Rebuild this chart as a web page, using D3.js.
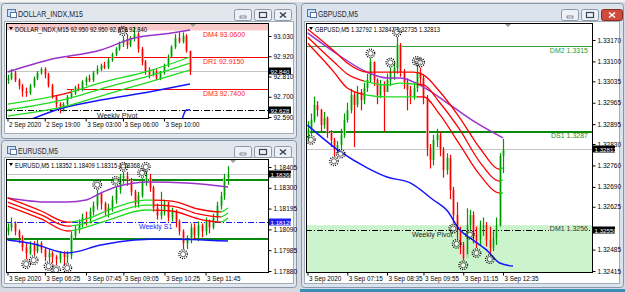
<!DOCTYPE html>
<html>
<head>
<meta charset="utf-8">
<script src="https://d3js.org/d3.v7.min.js"></script>
<style>
  body { margin: 0; background: #d9dde2; }
  svg { display: block; font-family: "Liberation Sans", Arial, sans-serif; }
</style>
</head>
<body>
<div id="chart"></div>
<script>
// 1. DATA ----------------------------------------------------------

// DOLLAR_INDX, M15
const dxDates = ["2 Sep 2020", "2 Sep 19:00", "3 Sep 03:00", "3 Sep 06:00", "3 Sep 10:00"];
const dxDateIdx = [0, 10, 21, 31, 42];
const dxTicks = [93.030, 92.920, 92.810, 92.700, 92.590];
const dxOpen0 = 92.79;
const dxClose = [92.80, 92.83, 92.79, 92.76, 92.73, 92.72, 92.76, 92.80, 92.83, 92.85,
                 92.82, 92.76, 92.70, 92.66, 92.63, 92.66, 92.70, 92.72, 92.75, 92.74,
                 92.78, 92.80, 92.79, 92.83, 92.85, 92.87, 92.86, 92.90, 92.93, 92.96,
                 92.99, 93.01, 92.98, 93.02, 93.04, 92.96, 92.89, 92.84, 92.82, 92.84,
                 92.80, 92.83, 92.87, 92.92, 92.97, 93.02, 93.00, 93.03, 92.95, 92.84];
const dxHigh  = [92.82, 92.85, 92.84, 92.80, 92.77, 92.75, 92.77, 92.81, 92.84, 92.86,
                 92.86, 92.83, 92.77, 92.71, 92.67, 92.67, 92.71, 92.74, 92.76, 92.77,
                 92.79, 92.81, 92.82, 92.84, 92.87, 92.88, 92.89, 92.91, 92.94, 92.97,
                 93.00, 93.03, 93.04, 93.03, 93.08, 93.05, 92.97, 92.90, 92.86, 92.85,
                 92.85, 92.84, 92.88, 92.93, 92.98, 93.04, 93.05, 93.05, 93.04, 92.95];
const dxLow   = [92.77, 92.79, 92.78, 92.74, 92.70, 92.70, 92.71, 92.75, 92.79, 92.82,
                 92.80, 92.75, 92.69, 92.64, 92.61, 92.62, 92.65, 92.69, 92.71, 92.73,
                 92.73, 92.76, 92.78, 92.78, 92.82, 92.84, 92.85, 92.85, 92.89, 92.92,
                 92.95, 92.97, 92.96, 92.97, 93.00, 92.94, 92.87, 92.82, 92.80, 92.81,
                 92.79, 92.79, 92.82, 92.86, 92.91, 92.96, 92.99, 92.99, 92.94, 92.818];
const dxPurpleIdx = [0, 11, 25, 34, 44, 49];
const dxPurple = [92.834, 92.900, 92.954, 93.019, 93.046, 93.063];
const dxBlueIdx = [6, 15, 25, 38, 49];
const dxBlue = [92.575, 92.640, 92.682, 92.726, 92.769];
const dxWeeklyIdx = [47, 48, 49];
const dxWeekly = [92.585, 92.628, 92.630];
const dxRibIdx = [0, 16, 25, 38, 49];
const dxRib1 = [92.660, 92.720, 92.775, 92.840, 92.916];
const dxRib2 = [92.628, 92.688, 92.742, 92.813, 92.883];
const dxRib3 = [92.595, 92.650, 92.704, 92.780, 92.845];
const dxLevelNames = ["DM4 93.0600", "DR1 92.9150", "DM3 92.7400"];
const dxLevelVals = [93.06, 92.915, 92.74];
const dxPivot = 92.628, dxLast = 92.840;
const dxSunHi = [31], dxSunLo = [];

// EURUSD, M5
const euDates = ["3 Sep 2020", "3 Sep 06:25", "3 Sep 07:45", "3 Sep 09:05", "3 Sep 10:25", "3 Sep 11:45"];
const euDateIdx = [0, 10, 21, 31, 42, 53];
const euTicks = [1.18405, 1.18300, 1.18195, 1.18090, 1.17985, 1.17880];
const euOpen0 = 1.1808;
const euClose = [1.1810, 1.1812, 1.1808, 1.1805, 1.1800, 1.1797, 1.1801, 1.1798, 1.1802, 1.1799,
                 1.1795, 1.1797, 1.1795, 1.1794, 1.1797, 1.1795, 1.1796, 1.1806, 1.1809, 1.1812,
                 1.1815, 1.1814, 1.1818, 1.1821, 1.1827, 1.1822, 1.1818, 1.1820, 1.1824, 1.1829,
                 1.1835, 1.1836, 1.1834, 1.1828, 1.1822, 1.1826, 1.1833, 1.1835, 1.1830, 1.1820,
                 1.1816, 1.1818, 1.1822, 1.1815, 1.1818, 1.1813, 1.1808, 1.1802, 1.1804, 1.1810,
                 1.1806, 1.1811, 1.1808, 1.1813, 1.1810, 1.1815, 1.1821, 1.1826, 1.18352, 1.18368];
const euHigh  = [1.1812, 1.1815, 1.1813, 1.1809, 1.1806, 1.1802, 1.1803, 1.1803, 1.1804, 1.1803,
                 1.1800, 1.1799, 1.1798, 1.1796, 1.1798, 1.1798, 1.1798, 1.1808, 1.1811, 1.1814,
                 1.1817, 1.1818, 1.1820, 1.1823, 1.1829, 1.1828, 1.1823, 1.1822, 1.1826, 1.1831,
                 1.1837, 1.1838, 1.1838, 1.1835, 1.1829, 1.1828, 1.1835, 1.1838, 1.1837, 1.1831,
                 1.1822, 1.1828, 1.1824, 1.1823, 1.1820, 1.1819, 1.1814, 1.1809, 1.1806, 1.1812,
                 1.1812, 1.1813, 1.1812, 1.1815, 1.1814, 1.1817, 1.1823, 1.1828, 1.1837, 1.18409];
const euLow   = [1.1806, 1.1808, 1.1806, 1.1802, 1.1798, 1.1794, 1.1796, 1.1796, 1.1797, 1.1797,
                 1.1793, 1.1793, 1.1792, 1.1791, 1.1792, 1.1791, 1.1792, 1.1794, 1.1804, 1.1807,
                 1.1810, 1.1811, 1.1812, 1.1816, 1.1819, 1.1819, 1.1816, 1.1815, 1.1818, 1.1822,
                 1.1827, 1.1832, 1.1831, 1.1826, 1.1820, 1.1820, 1.1825, 1.1831, 1.1828, 1.1818,
                 1.1814, 1.1814, 1.1816, 1.1813, 1.1813, 1.1810, 1.1806, 1.1799, 1.1799, 1.1802,
                 1.1804, 1.1803, 1.1805, 1.1806, 1.1807, 1.1809, 1.1813, 1.1819, 1.1824, 1.18315];
const euPurpleIdx = [0, 11, 16, 21, 25, 29, 38, 48, 59];
const euPurple = [1.18249, 1.18228, 1.18228, 1.18238, 1.18274, 1.18304, 1.18329, 1.18324, 1.18304];
const euBlueIdx = [0, 7, 16, 25, 34, 42, 59];
const euBlue = [1.18036, 1.18016, 1.17971, 1.18011, 1.18036, 1.18042, 1.18031];
const euRibIdx = [0, 9, 16, 22, 27, 37, 44, 51, 57, 59];
const euRib1 = [1.18249, 1.18183, 1.18127, 1.18148, 1.18188, 1.18238, 1.18233, 1.18193, 1.18178, 1.18198];
const euRib2 = [1.18228, 1.18163, 1.18107, 1.18127, 1.18163, 1.18213, 1.18208, 1.18168, 1.18153, 1.18173];
const euRib3 = [1.18208, 1.18143, 1.18082, 1.18107, 1.18137, 1.18188, 1.18183, 1.18143, 1.18127, 1.18148];
const euRibTrend = [[0, 17, "R"], [17, 39, "G"], [39, 57, "R"], [57, 59, "G"]];
const euGreenLevels = [1.18339, 1.18042];
const euS1 = 1.18128, euLast = 1.18368;
const euSunHi = [24, 29, 31, 36, 37], euSunLo = [5, 7, 11, 13, 16, 47];

// GBPUSD, M5
const gbDates = ["3 Sep 2020", "3 Sep 07:15", "3 Sep 08:35", "3 Sep 09:55", "3 Sep 11:15", "3 Sep 12:35"];
const gbDateIdx = [0, 12, 24, 35, 47, 59];
const gbTicks = [1.33170, 1.33100, 1.33035, 1.32965, 1.32895, 1.32830, 1.32760, 1.32690, 1.32625, 1.32485, 1.32415];
const gbOpen0 = 1.32860;
const gbClose = [1.32876, 1.32909, 1.32958, 1.32941, 1.32892, 1.32915, 1.32869, 1.32843, 1.32810, 1.32827,
                 1.32860, 1.32909, 1.32941, 1.32990, 1.32958, 1.33000, 1.32974, 1.33013, 1.33039, 1.33098,
                 1.33039, 1.32990, 1.33023, 1.33000, 1.33039, 1.33065, 1.33078, 1.33154, 1.33065, 1.33033,
                 1.33007, 1.32987, 1.33013, 1.33065, 1.33046, 1.32980, 1.32817, 1.32778, 1.32843, 1.32860,
                 1.32810, 1.32745, 1.32784, 1.32680, 1.32598, 1.32549, 1.32500, 1.32457, 1.32565, 1.32598,
                 1.32533, 1.32516, 1.32556, 1.32565, 1.32516, 1.32490, 1.32523, 1.32565, 1.32792, 1.32813];
const gbHigh  = [1.32905, 1.32930, 1.32985, 1.32970, 1.32945, 1.32935, 1.32920, 1.32875, 1.32850, 1.32840,
                 1.32880, 1.32930, 1.32965, 1.33010, 1.33000, 1.33020, 1.33010, 1.33030, 1.33060, 1.33110,
                 1.33100, 1.33045, 1.33040, 1.33035, 1.33060, 1.33080, 1.33095, 1.33180, 1.33160, 1.33075,
                 1.33045, 1.33020, 1.33030, 1.33085, 1.33080, 1.33055, 1.32990, 1.32830, 1.32860, 1.32880,
                 1.32870, 1.32820, 1.32800, 1.32795, 1.32690, 1.32640, 1.32560, 1.32510, 1.32620, 1.32615,
                 1.32610, 1.32560, 1.32580, 1.32590, 1.32575, 1.32560, 1.32545, 1.32590, 1.32800, 1.32847];
const gbLow   = [1.32840, 1.32860, 1.32900, 1.32920, 1.32870, 1.32880, 1.32850, 1.32820, 1.32790, 1.32800,
                 1.32815, 1.32850, 1.32900, 1.32930, 1.32820, 1.32950, 1.32940, 1.32960, 1.33000, 1.33030,
                 1.33020, 1.32960, 1.32980, 1.32870, 1.33000, 1.33020, 1.33040, 1.33060, 1.33050, 1.33010,
                 1.32940, 1.32960, 1.32975, 1.33000, 1.33020, 1.32960, 1.32790, 1.32750, 1.32760, 1.32820,
                 1.32790, 1.32720, 1.32730, 1.32650, 1.32570, 1.32520, 1.32470, 1.32450, 1.32470, 1.32550,
                 1.32505, 1.32490, 1.32500, 1.32530, 1.32495, 1.32470, 1.32480, 1.32500, 1.32560, 1.32735];
const gbPurpleIdx = [0, 8, 18, 24, 28, 35, 43, 51, 59];
const gbPurple = [1.33193, 1.33131, 1.33065, 1.33046, 1.33046, 1.33016, 1.32958, 1.32899, 1.32850];
const gbBlueIdx = [0, 10, 18, 24, 31, 38, 42, 46, 50, 54, 58, 62];
const gbBlue = [1.32892, 1.32804, 1.32752, 1.32722, 1.32703, 1.32647, 1.32614, 1.32549, 1.32516, 1.32484, 1.32441, 1.32431];
const gbRibIdx = [0, 8, 12, 18, 24, 28, 32, 35, 40, 46, 52, 58, 59];
const gbRib1 = [1.33206, 1.33134, 1.33095, 1.33065, 1.33065, 1.33065, 1.33065, 1.33056, 1.33000, 1.32915, 1.32817, 1.32748, 1.32752];
const gbRib2 = [1.33180, 1.33098, 1.33059, 1.33033, 1.33023, 1.33029, 1.33026, 1.33023, 1.32964, 1.32876, 1.32771, 1.32709, 1.32712];
const gbRib3 = [1.33160, 1.33065, 1.33013, 1.32990, 1.32984, 1.32984, 1.32984, 1.32984, 1.32925, 1.32827, 1.32729, 1.32670, 1.32670];
const gbTrendTop = [[0, 58, "R"], [58, 59, "G"]];
const gbTrendLow = [[0, 17, "R"], [17, 33, "G"], [33, 58, "R"], [58, 59, "G"]];
const gbLevelNames = ["DM2 1.3315", "DS1 1.3287", "DM1 1.3256"];
const gbLevelVals = [1.3315, 1.3287, 1.32565];
const gbPivot = 1.32550, gbLast = 1.32813;
const gbSunHi = [19, 25, 27, 33, 34], gbSunLo = [1, 8, 10, 44, 45, 47, 49, 51, 55];

// 2. SETUP ---------------------------------------------------------
const width = 625, height = 292;
const FONT = "Liberation Sans, Arial, sans-serif";
const colors = { R: "#ff0000", G: "#1edc1e" };

const svg = d3.select("#chart").append("svg")
    .attr("width", width).attr("height", height)
    .attr("viewBox", [0, 0, width, height]);
const defs = svg.append("defs");

svg.append("rect").attr("width", width).attr("height", height).attr("fill", "#d5dae0");
svg.append("rect").attr("width", width).attr("height", 2).attr("fill", "#f4f4f4");

// --- WINDOW FRAME ---
function drawWindow(f, p, title, titleW, active) {
    const g = svg.append("g");
    g.append("rect")
        .attr("x", f.x + 0.5).attr("y", f.y + 0.5)
        .attr("width", f.w - 1).attr("height", f.h - 1)
        .attr("rx", 3)
        .attr("fill", active ? "#dbe4ee" : "#e2e7ed")
        .attr("stroke", "#8797a9");
    g.append("rect")
        .attr("x", p.x + 0.5).attr("y", p.y + 0.5)
        .attr("width", p.w - 1).attr("height", p.h - 1)
        .attr("fill", "#fff").attr("stroke", "#a3adb8");

    // icon
    const ic = g.append("g").attr("transform", `translate(${f.x + 6},${f.y + 6})`);
    ic.append("rect").attr("x", 0.5).attr("y", 0.5).attr("width", 8).attr("height", 7)
        .attr("fill", "#cfe0f3").attr("stroke", "#4f78a8");
    ic.append("rect").attr("x", 3.5).attr("y", 3.5).attr("width", 6).attr("height", 5)
        .attr("fill", "#fff").attr("stroke", "#4f78a8");

    g.append("text")
        .attr("x", f.x + 17).attr("y", f.y + 11)
        .attr("dominant-baseline", "central")
        .attr("font-size", "8.5px").attr("fill", "#1e2a38")
        .attr("textLength", titleW).attr("lengthAdjust", "spacingAndGlyphs")
        .text(title);

    // caption buttons
    const bx = f.x + f.w - 63, by = f.y + 6;
    [0, 1, 2].forEach(k => {
        const isClose = k === 2;
        const w = isClose && active ? 21 : 17;
        const x0 = bx + k * 20;
        g.append("rect")
            .attr("x", x0 + 0.5).attr("y", by + 0.5).attr("width", w).attr("height", 11)
            .attr("rx", 2)
            .attr("fill", isClose && active ? "#cf4b3c" : "#edf1f5")
            .attr("stroke", isClose && active ? "#8e2b20" : "#8b98a8");
        const cx = x0 + w / 2 + 0.5, cy = by + 6;
        if (k === 0) {
            g.append("rect").attr("x", cx - 3).attr("y", cy + 1).attr("width", 6).attr("height", 2)
                .attr("fill", "#fff").attr("stroke", "#3a4656").attr("stroke-width", 0.6);
        } else if (k === 1) {
            g.append("rect").attr("x", cx - 3.5).attr("y", cy - 2.5).attr("width", 7).attr("height", 5)
                .attr("fill", "none").attr("stroke", "#3a4656").attr("stroke-width", 1.2);
        } else {
            g.append("path")
                .attr("d", `M${cx - 3},${cy - 2.5}L${cx + 3},${cy + 2.5}M${cx + 3},${cy - 2.5}L${cx - 3},${cy + 2.5}`)
                .attr("stroke", active ? "#fff" : "#3a4656").attr("stroke-width", 1.6);
        }
    });
}

// --- ONE PRICE CHART ---
function drawChart(c) {
    const x = d3.scaleLinear().domain([0, c.close.length - 1]).range([c.x0, c.x1]);
    const y = d3.scaleLinear().domain([c.ticks[0], c.ticks[c.ticks.length - 1]]).range([c.yTop, c.yBot]);
    const L = c.L, R = c.R, T = c.T, B = c.B;

    defs.append("clipPath").attr("id", c.id + "-clip")
        .append("rect").attr("x", L).attr("y", T).attr("width", R - L).attr("height", B - T);
    const g = svg.append("g").attr("clip-path", `url(#${c.id}-clip)`);

    // zones
    c.zones.forEach(z => {
        const y1 = z.top == null ? T : y(z.top);
        const y2 = z.bottom == null ? B : y(z.bottom);
        g.append("rect").attr("x", L).attr("y", y1).attr("width", R - L).attr("height", y2 - y1)
            .attr("fill", z.fill);
    });

    // current price line
    g.append("line")
        .attr("x1", L).attr("x2", R)
        .attr("y1", Math.round(y(c.last)) + 0.5).attr("y2", Math.round(y(c.last)) + 0.5)
        .attr("stroke", "#c4c4c4");

    // horizontal levels
    g.selectAll(".lvl").data(c.levels).join("line")
        .attr("class", "lvl")
        .attr("x1", d => d.from == null ? L : x(d.from)).attr("x2", R)
        .attr("y1", d => Math.round(y(d.v)) + (d.w === 2 ? 0 : 0.5))
        .attr("y2", d => Math.round(y(d.v)) + (d.w === 2 ? 0 : 0.5))
        .attr("stroke", d => d.color)
        .attr("stroke-width", d => d.w)
        .attr("stroke-dasharray", d => d.dash || null);

    // level labels
    c.labels.forEach(d => {
        const t = g.append("text")
            .attr("x", d.x).attr("y", y(d.v) + d.dy)
            .attr("text-anchor", d.anchor || "start")
            .attr("dominant-baseline", "central")
            .attr("font-size", "7px").attr("fill", d.color)
            .text(d.text);
        if (d.bg) {
            const bb = t.node().getBBox();
            g.insert("rect", () => t.node())
                .attr("x", bb.x - 1).attr("y", bb.y).attr("width", bb.width + 2).attr("height", bb.height)
                .attr("fill", d.bg);
        }
    });

    // candles
    const candles = c.close.map((cl, i) => ({
        i, o: i ? c.close[i - 1] : c.open0, h: c.high[i], l: c.low[i], c: cl
    }));
    const cg = g.append("g");
    cg.selectAll("rect").data(candles).join("rect")
        .attr("x", d => Math.round(x(d.i)) - 1)
        .attr("width", 3)
        .attr("y", d => y(Math.max(d.o, d.c)))
        .attr("height", d => Math.max(1, Math.abs(y(d.o) - y(d.c))))
        .attr("fill", d => d.c >= d.o ? "#a6e6a6" : "#ffb0b0");
    cg.selectAll("line").data(candles).join("line")
        .attr("x1", d => Math.round(x(d.i)) + 0.5).attr("x2", d => Math.round(x(d.i)) + 0.5)
        .attr("y1", d => y(d.h)).attr("y2", d => y(d.l))
        .attr("stroke", d => d.c >= d.o ? "#009a00" : "#ff0000")
        .attr("stroke-width", 1.2);

    // moving averages
    c.mas.forEach(m => {
        const line = d3.line().x((d, i) => x(m.idx[i])).y(d => y(d)).curve(d3.curveMonotoneX);
        g.append("path").attr("d", line(m.vals))
            .attr("fill", "none").attr("stroke", m.color).attr("stroke-width", m.w || 1.5);
    });

    // ribbon lines coloured by trend
    c.ribbons.forEach((r, k) => {
        const line = d3.line().x((d, i) => x(r.idx[i])).y(d => y(d)).curve(d3.curveMonotoneX);
        r.trend.forEach(([a, b, col], s) => {
            const cid = `${c.id}-rib${k}-${s}`;
            defs.append("clipPath").attr("id", cid).append("rect")
                .attr("x", x(a)).attr("y", 0).attr("width", x(b) - x(a) + 0.5).attr("height", height);
            g.append("g").attr("clip-path", `url(#${cid})`)
                .append("path").attr("d", line(r.vals))
                .attr("fill", "none").attr("stroke", colors[col]).attr("stroke-width", 1.3);
        });
    });

    // fractal "sun" markers
    const suns = c.sunHi.map(i => ({ cx: x(i), cy: y(c.high[i]) - 5 }))
        .concat(c.sunLo.map(i => ({ cx: x(i), cy: y(c.low[i]) + 5 })));
    const sg = g.selectAll(".sun").data(suns).join("g").attr("class", "sun")
        .attr("transform", d => `translate(${d.cx},${d.cy})`);
    sg.append("circle").attr("r", 4.3).attr("fill", "none")
        .attr("stroke", "#000").attr("stroke-width", 1.3).attr("stroke-dasharray", "1,1.25");
    sg.append("circle").attr("r", 2.6).attr("fill", "#fff").attr("fill-opacity", 0.6)
        .attr("stroke", "#000").attr("stroke-width", 0.6);

    // chart box
    svg.append("rect").attr("x", L + 0.5).attr("y", T + 0.5)
        .attr("width", R - L).attr("height", B - T)
        .attr("fill", "none").attr("stroke", "#000");

    // price axis
    const ay = svg.append("g").attr("transform", `translate(${R + 0.5},0)`)
        .call(d3.axisRight(y).tickValues(c.ticks).tickSize(3).tickFormat(d3.format(c.fmt)));
    ay.attr("font-size", 6.5).attr("font-family", FONT);
    ay.select(".domain").remove();
    ay.selectAll("text").attr("x", 5).attr("fill", "#000");
    ay.selectAll("line").attr("stroke", "#000");

    // time axis
    const ax = svg.append("g").attr("transform", `translate(0,${B + 0.5})`)
        .call(d3.axisBottom(x).tickValues(c.dateIdx).tickSize(3).tickFormat((d, i) => c.dates[i]));
    ax.attr("font-size", 6.3).attr("font-family", FONT);
    ax.select(".domain").remove();
    ax.selectAll("text").attr("text-anchor", "start").attr("x", 1).attr("y", 4).attr("fill", "#000");
    ax.selectAll("line").attr("stroke", "#000");

    // price boxes on the axis
    c.boxes.forEach(b => {
        const yy = Math.round(y(b.v));
        svg.append("rect").attr("x", R + 1).attr("y", yy - 3.5).attr("width", 22).attr("height", 7)
            .attr("fill", b.fill);
        svg.append("text").attr("x", R + 2.5).attr("y", yy).attr("dominant-baseline", "central")
            .attr("font-size", "6.2px").attr("fill", "#fff")
            .text(d3.format(c.fmt)(b.v));
    });

    // info line and shift marker
    svg.append("path")
        .attr("d", `M${L + 3},${T + 4}L${L + 7},${T + 4}L${L + 5},${T + 7}Z`).attr("fill", "#000");
    svg.append("text").attr("x", L + 9).attr("y", T + 6)
        .attr("dominant-baseline", "central")
        .attr("font-size", "7px").attr("fill", "#000")
        .attr("textLength", c.infoW).attr("lengthAdjust", "spacingAndGlyphs")
        .text(c.info);
    svg.append("path")
        .attr("d", `M${c.shiftX - 3},${T + 1}L${c.shiftX + 3},${T + 1}L${c.shiftX},${T + 4}Z`)
        .attr("fill", "#9a9a9a");
}

// 3. DRAW ----------------------------------------------------------
drawWindow({ x: 1, y: 3, w: 296, h: 136 }, { x: 4, y: 21, w: 290, h: 113 }, "DOLLAR_INDX,M15", 65, false);
drawWindow({ x: 1, y: 140, w: 296, h: 148 }, { x: 4, y: 157, w: 290, h: 127 }, "EURUSD,M5", 40, false);
drawWindow({ x: 301, y: 3, w: 323, h: 285 }, { x: 304, y: 21, w: 316, h: 263 }, "GBPUSD,M5", 40, true);

drawChart({
    id: "dx", L: 6, R: 268, T: 23, B: 118, x0: 7.5, x1: 190, yTop: 36, yBot: 117,
    ticks: dxTicks, fmt: ".3f", dates: dxDates, dateIdx: dxDateIdx,
    open0: dxOpen0, close: dxClose, high: dxHigh, low: dxLow, last: dxLast,
    zones: [{ top: null, bottom: dxLevelVals[0], fill: "#f7c9c9" }],
    levels: [
        { v: dxLevelVals[1], from: 16, color: "#ff0000", w: 1 },
        { v: dxLevelVals[2], from: 16, color: "#ff0000", w: 1 },
        { v: dxPivot, color: "#000", w: 1, dash: "6,2,1,2" }
    ],
    labels: dxLevelNames.map((t, i) => ({ text: t, v: dxLevelVals[i], x: 203, dy: 4, color: "#ff1a1a" }))
        .concat([{ text: "Weekly Pivot", v: dxPivot, x: 97, dy: 5, color: "#222" }]),
    mas: [
        { idx: dxPurpleIdx, vals: dxPurple, color: "#9933cc" },
        { idx: dxBlueIdx, vals: dxBlue, color: "#1414ff" },
        { idx: dxWeeklyIdx, vals: dxWeekly, color: "#1414ff" }
    ],
    ribbons: [
        { idx: dxRibIdx, vals: dxRib1, trend: [[0, 12, "G"], [12, 17, "R"], [17, 49, "G"]] },
        { idx: dxRibIdx, vals: dxRib2, trend: [[0, 49, "G"]] },
        { idx: dxRibIdx, vals: dxRib3, trend: [[0, 49, "G"]] }
    ],
    sunHi: dxSunHi, sunLo: dxSunLo,
    boxes: [{ v: dxLast, fill: "#000" }, { v: dxPivot, fill: "#000" }],
    info: "DOLLAR_INDX,M15  92.950 92.950 92.818 92.840", infoW: 132, shiftX: 193
});

drawChart({
    id: "eu", L: 6, R: 268, T: 159, B: 272, x0: 7.5, x1: 228, yTop: 167, yBot: 271,
    ticks: euTicks, fmt: ".5f", dates: euDates, dateIdx: euDateIdx,
    open0: euOpen0, close: euClose, high: euHigh, low: euLow, last: euLast,
    zones: [],
    levels: [
        { v: euGreenLevels[0], color: "#0a8a0a", w: 2 },
        { v: euGreenLevels[1], color: "#0a8a0a", w: 2 },
        { v: euS1, color: "#1a1aff", w: 1, dash: "6,2,1,2" }
    ],
    labels: [{ text: "Weekly S1", v: euS1, x: 139, dy: 5, color: "#2323ff" }],
    mas: [
        { idx: euPurpleIdx, vals: euPurple, color: "#9933cc" },
        { idx: euBlueIdx, vals: euBlue, color: "#1414ff" }
    ],
    ribbons: [euRib1, euRib2, euRib3].map(v => ({ idx: euRibIdx, vals: v, trend: euRibTrend })),
    sunHi: euSunHi, sunLo: euSunLo,
    boxes: [{ v: euLast, fill: "#000" }, { v: euS1, fill: "#2020ee" }],
    info: "EURUSD,M5  1.18352 1.18409 1.18315 1.18368", infoW: 125, shiftX: 233
});

drawChart({
    id: "gb", L: 306, R: 592, T: 23, B: 272, x0: 307.5, x1: 503, yTop: 40, yBot: 271,
    ticks: gbTicks, fmt: ".5f", dates: gbDates, dateIdx: gbDateIdx,
    open0: gbOpen0, close: gbClose, high: gbHigh, low: gbLow, last: gbLast,
    zones: [{ top: gbLevelVals[2], bottom: null, fill: "#ccf4cc" }],
    levels: [
        { v: gbLevelVals[0], color: "#3c9e3c", w: 1 },
        { v: gbLevelVals[1], color: "#0a8a0a", w: 2 },
        { v: gbPivot, color: "#000", w: 1, dash: "6,2,1,2" }
    ],
    labels: [
        { text: gbLevelNames[0], v: gbLevelVals[0], x: 588, dy: 4, anchor: "end", color: "#2f9a2f" },
        { text: gbLevelNames[1], v: gbLevelVals[1], x: 588, dy: 4, anchor: "end", color: "#1e8e1e" },
        { text: gbLevelNames[2], v: gbLevelVals[2], x: 588, dy: 3.5, anchor: "end", color: "#333", bg: "#ccf4cc" },
        { text: "Weekly Pivot", v: gbPivot, x: 412, dy: 4.5, color: "#222" }
    ],
    mas: [
        { idx: gbPurpleIdx, vals: gbPurple, color: "#9933cc" },
        { idx: gbBlueIdx, vals: gbBlue, color: "#1414ff" }
    ],
    ribbons: [
        { idx: gbRibIdx, vals: gbRib1, trend: gbTrendTop },
        { idx: gbRibIdx, vals: gbRib2, trend: gbTrendLow },
        { idx: gbRibIdx, vals: gbRib3, trend: gbTrendLow }
    ],
    sunHi: gbSunHi, sunLo: gbSunLo,
    boxes: [{ v: gbLast, fill: "#000" }, { v: gbPivot, fill: "#000" }],
    info: "GBPUSD,M5  1.32792 1.32847 1.32735 1.32813", infoW: 125, shiftX: 508
});

svg.append("rect").attr("x", 300).attr("y", 289).attr("width", 325).attr("height", 3).attr("fill", "#3a8db4");
</script>
</body>
</html>
